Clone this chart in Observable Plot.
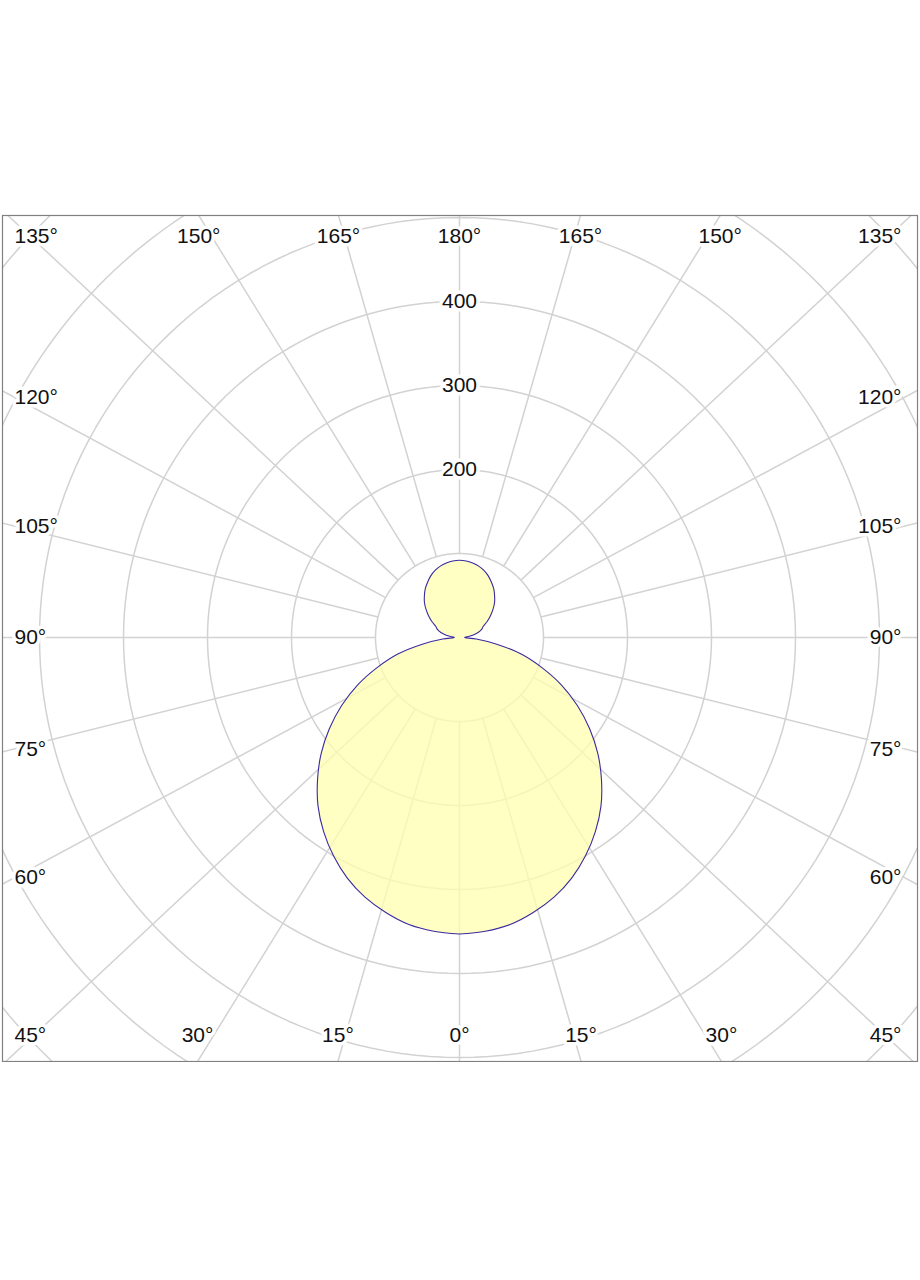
<!DOCTYPE html>
<html>
<head>
<meta charset="utf-8">
<script src="https://cdn.jsdelivr.net/npm/d3@7"></script>
<script src="https://cdn.jsdelivr.net/npm/@observablehq/plot@0.6"></script>
<style>
  html, body { margin: 0; padding: 0; background: white; }
  #chart { padding-top: 214px; width: 920px; }
  #chart svg { display: block; }
</style>
</head>
<body>
<div id="chart"></div>
<script>
// ---- data ----
// gamma angles in degrees (0 = down, 180 = up), luminous intensity in cd
const gammaAngles = [0, 5, 10, 15, 20, 25, 30, 35, 40, 45, 50, 55, 60, 65, 70, 75, 80, 85, 90,
  95, 100, 105, 110, 115, 120, 125, 130, 135, 140, 145, 150, 155, 160, 165, 170, 175, 180];
const intensity = [353, 351, 347, 339, 329, 316, 300, 282, 262, 239, 215, 189, 162, 134, 104, 76, 44, 20, 6,
  9, 16, 23, 28, 31, 38, 45, 52, 59, 65, 71, 76, 81, 85, 88, 90, 91.5, 92];
// grid
const ringValues = [100, 200, 300, 400, 500, 600, 700];
const ringLabels = [200, 300, 400];
const spokeAngles = [0, 15, 30, 45, 60, 75, 90, 105, 120, 135, 150, 165, 180];

// ---- geometry helpers ----
const K = 0.84;      // pixels per cd
const S = 1.07;      // horizontal spread of the spokes in the original drawing
const rad = d => d * Math.PI / 180;

// outline: right half 0..180, then left half back to 0
const outline = [];
gammaAngles.forEach((g, i) => outline.push({x: intensity[i] * Math.sin(rad(g)), y: -intensity[i] * Math.cos(rad(g))}));
for (let i = gammaAngles.length - 2; i >= 0; i--) {
  const g = gammaAngles[i];
  outline.push({x: -intensity[i] * Math.sin(rad(g)), y: -intensity[i] * Math.cos(rad(g))});
}

// rings
const ringPts = [];
ringValues.forEach(r => {
  for (let a = 0; a <= 360; a += 2) ringPts.push({ring: r, x: r * Math.sin(rad(a)), y: r * Math.cos(rad(a))});
});

// spokes (both sides)
const spokes = [];
spokeAngles.forEach(g => {
  const sides = (g === 0 || g === 180) ? [1] : [-1, 1];
  sides.forEach(side => {
    let ux = side * S * Math.sin(rad(g)), uy = -Math.cos(rad(g));
    const n = Math.hypot(ux, uy); ux /= n; uy /= n;
    spokes.push({g, side, ux, uy, x1: ux * 100, y1: uy * 100, x2: ux * 1000, y2: uy * 1000});
  });
});

// frame extents in cd
const Lx = 457 / K, Rx = 458 / K, Ty = 422 / K, By = 424 / K;
const topLabelY = 401 / K, bottomLabelY = -398 / K;
const leftLabelX = -445 / K, rightLabelX = 442 / K;
const angleLabels = spokes.map(s => {
  const tSide = (s.ux >= 0 ? Rx : Lx) / Math.max(Math.abs(s.ux), 1e-9);
  const tVert = (s.uy >= 0 ? Ty : By) / Math.max(Math.abs(s.uy), 1e-9);
  let x, y, anchor = "middle";
  if (tVert <= tSide) {
    x = s.ux * tVert;
    y = s.uy >= 0 ? topLabelY : bottomLabelY;
    if (x * K < -415) { x = leftLabelX; anchor = "start"; }
    else if (x * K > 415) { x = rightLabelX; anchor = "end"; }
  } else {
    y = s.uy * (445 / K) / Math.abs(s.ux);
    if (s.ux < 0) { x = leftLabelX; anchor = "start"; } else { x = rightLabelX; anchor = "end"; }
  }
  return {text: `${s.g}°`, x, y, anchor};
});

const gridColor = "#d2d2d2";
const fontFamily = "'Liberation Sans', Arial, sans-serif";

const chart = Plot.plot({
  width: 920,
  height: 848,
  marginLeft: 2, marginRight: 3, marginTop: 1, marginBottom: 1,
  x: {domain: [-Lx, Rx], axis: null},
  y: {domain: [-By, Ty], axis: null},
  style: {fontFamily, fontSize: "21px", background: "white", color: "#111"},
  marks: [
    Plot.line(ringPts, {x: "x", y: "y", z: "ring", stroke: gridColor, strokeWidth: 1.5, clip: true}),
    Plot.link(spokes, {x1: "x1", y1: "y1", x2: "x2", y2: "y2", stroke: gridColor, strokeWidth: 1.5, clip: true}),
    Plot.line(outline, {x: "x", y: "y", curve: "catmull-rom", fill: "#ffffb0", fillOpacity: 0.75,
      stroke: "#3b2a9e", strokeWidth: 1.1}),
    Plot.text(ringLabels, {x: () => 0, y: d => d, text: d => String(d), fill: "#111",
      stroke: "white", strokeWidth: 7, fontSize: 21}),
    ...["start", "middle", "end"].map(a => Plot.text(angleLabels.filter(d => d.anchor === a), {
      x: "x", y: "y", text: "text", textAnchor: a, fill: "#111", stroke: "white", strokeWidth: 7, fontSize: 21
    })),
    Plot.frame({stroke: "#808080", strokeWidth: 1.2})
  ]
});
document.getElementById("chart").appendChild(chart);
</script>
</body>
</html>
